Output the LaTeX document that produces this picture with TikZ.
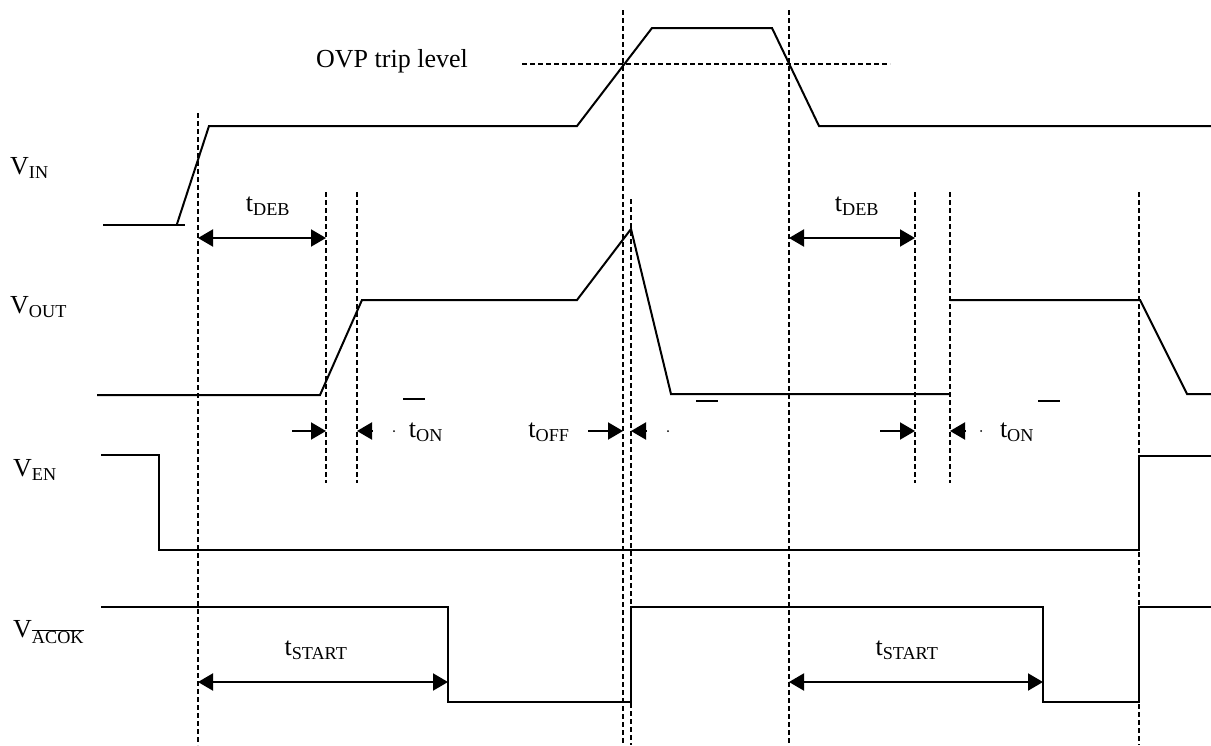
\documentclass[tikz,border=0pt]{standalone}
\usepackage{fontspec}
\setmainfont{Liberation Serif}
\usepackage{tikz}
\usetikzlibrary{positioning}
\usetikzlibrary{arrows.meta}

\tikzset{
    signal/.style={line width=2pt},
    marker/.style={line width=1.6pt, dash pattern=on 5pt off 3pt},
    span/.style={line width=2pt, {Triangle[length=15pt,width=17pt]}-{Triangle[length=15pt,width=17pt]}},
    pointer/.style={line width=2pt, -{Triangle[length=15pt,width=17pt]}},
    lbl/.style={font=\fontsize{26}{30}\selectfont, inner sep=0pt},
    blot/.style={line width=2.5pt},
}

\begin{document}
\begin{tikzpicture}[x=1pt, y=-1pt]
    \useasboundingbox (0,0) rectangle (1211,745);

    % time markers
    \foreach \x/\ya/\yb in {198/113/745, 326/192/483, 357/192/483, 623/10/745, 631/199/745,
                            789/10/745, 915/192/483, 950/192/483, 1139/192/745}
        \draw[marker] (\x,\ya) -- (\x,\yb);

    % signal names
    \node[lbl, anchor=west] (vin) at (10,168) {V\textsubscript{IN}};
    \node[lbl, anchor=west] (vout) at (10,307) {V\textsubscript{OUT}};
    \node[lbl, anchor=west] (ven) at (13,470) {V\textsubscript{EN}};
    \node[lbl, anchor=west] (vacok) at (13,632) {V\textsubscript{$\overline{\mbox{ACOK}}$}};

    % V_IN
    \draw[signal] (103,225) -- (185,225);
    \draw[signal] (177,224) -- (209,126) -- (577,126) -- (652,28) -- (772,28) -- (819,126) -- (1211,126);
    \coordinate (ovpa) at (522,64);
    \coordinate (ovpb) at (890,64);
    \draw[marker] (ovpa) -- (ovpb);
    \node[lbl] (ovp) at (392,61) {OVP trip level};

    % V_OUT
    \draw[signal] (97,395) -- (320,395) -- (362,300) -- (577,300) -- (631,229) -- (671,394) -- (950,394);
    \draw[signal] (950,300) -- (1140,300) -- (1187,394) -- (1211,394);

    % V_EN
    \draw[signal] (101,455) -- (159,455) -- (159,550) -- (1139,550) -- (1139,456) -- (1211,456);

    % V_ACOK
    \draw[signal] (101,607) -- (448,607) -- (448,702) -- (631,702) -- (631,607) -- (1043,607)
        -- (1043,702) -- (1139,702) -- (1139,607) -- (1211,607);

    % debounce and start times
    \coordinate (deb1a) at (198,238);
    \coordinate (deb1b) at (326,238);
    \coordinate (deb2a) at (789,238);
    \coordinate (deb2b) at (915,238);
    \coordinate (start1a) at (198,682);
    \coordinate (start1b) at (448,682);
    \coordinate (start2a) at (789,682);
    \coordinate (start2b) at (1043,682);
    \draw[span] (deb1a) -- (deb1b);
    \draw[span] (deb2a) -- (deb2b);
    \draw[span] (start1a) -- (start1b);
    \draw[span] (start2a) -- (start2b);
    \node[lbl] (tdeb1) at (268,206) {t\textsubscript{DEB}};
    \node[lbl] (tdeb2) at (857,206) {t\textsubscript{DEB}};
    \node[lbl] (tstart1) at (316,650) {t\textsubscript{START}};
    \node[lbl] (tstart2) at (907,650) {t\textsubscript{START}};

    % on and off times
    \coordinate (on1a) at (292,431);
    \coordinate (on1b) at (326,431);
    \coordinate (on1c) at (372,431);
    \coordinate (on1d) at (357,431);
    \coordinate (offa) at (588,431);
    \coordinate (offb) at (623,431);
    \coordinate (offc) at (647,431);
    \coordinate (offd) at (631,431);
    \coordinate (on2a) at (880,431);
    \coordinate (on2b) at (915,431);
    \coordinate (on2c) at (966,431);
    \coordinate (on2d) at (950,431);
    \draw[pointer] (on1a) -- (on1b);
    \draw[pointer] (on1c) -- (on1d);
    \draw[pointer] (offa) -- (offb);
    \draw[pointer] (offc) -- (offd);
    \draw[pointer] (on2a) -- (on2b);
    \draw[pointer] (on2c) -- (on2d);
    \node[lbl] (ton1) at (426,432) {t\textsubscript{ON}};
    \node[lbl] (toff) at (549,432) {t\textsubscript{OFF}};
    \node[lbl] (ton2) at (1017,432) {t\textsubscript{ON}};

    % stray marks
    \fill (394,431) circle (1pt);
    \fill (668,431) circle (1pt);
    \fill (981,431) circle (1pt);
    \draw[blot] (403,399) -- (425,399);
    \draw[blot] (696,401) -- (718,401);
    \draw[blot] (1038,401) -- (1060,401);

\end{tikzpicture}
\end{document}
